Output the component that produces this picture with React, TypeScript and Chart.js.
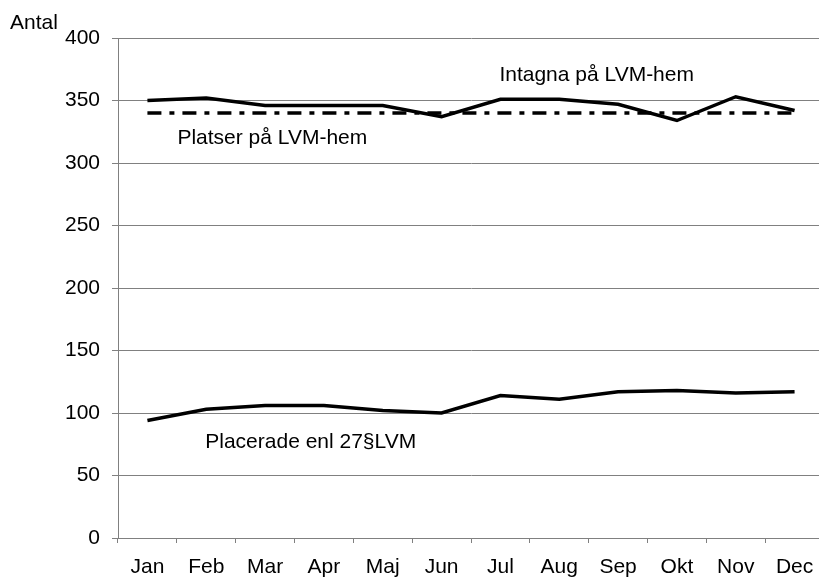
import React, { useEffect, useRef } from "react";
import { Chart, registerables } from "chart.js";

Chart.register(...registerables);

const months = ["Jan", "Feb", "Mar", "Apr", "Maj", "Jun", "Jul", "Aug", "Sep", "Okt", "Nov", "Dec"];
const intagna = [350, 352, 346, 346, 346, 337, 351, 351, 347, 334, 353, 342];
const platser = [340, 340, 340, 340, 340, 340, 340, 340, 340, 340, 340, 340];
const placerade = [94, 103, 106, 106, 102, 100, 114, 111, 117, 118, 116, 117];
const yTicks = [0, 50, 100, 150, 200, 250, 300, 350, 400];

const FONT = "'Liberation Sans', Arial, sans-serif";
const FS = 21;

const labelsPlugin = {
  id: "labelsPlugin",
  afterDraw(chart: any) {
    const ctx = chart.ctx;
    const x = chart.scales.x;
    const y = chart.scales.y;
    ctx.save();
    ctx.fillStyle = "#000";
    ctx.font = `${FS}px ${FONT}`;
    ctx.textBaseline = "middle";
    ctx.textAlign = "left";
    ctx.fillText("Intagna på LVM-hem", x.getPixelForValue(6) - 1, y.getPixelForValue(370));
    ctx.fillText("Platser på LVM-hem", x.getPixelForValue(0) + 30, y.getPixelForValue(320));
    ctx.fillText("Placerade enl 27§LVM", x.getPixelForValue(1) - 1, y.getPixelForValue(77));
    ctx.fillText("Antal", 10, 23);
    ctx.restore();
  },
};

export default function App() {
  const ref = useRef<HTMLCanvasElement>(null);
  useEffect(() => {
    document.body.style.margin = "0";
    const chart = new Chart(ref.current!, {
      type: "line",
      data: {
        labels: months,
        datasets: [
          { label: "Intagna", data: intagna, borderColor: "#000", borderWidth: 3.5, pointRadius: 0, tension: 0 },
          { label: "Platser", data: platser, borderColor: "#000", borderWidth: 3.5, borderDash: [14, 8, 5, 8], pointRadius: 0, tension: 0 },
          { label: "Placerade", data: placerade, borderColor: "#000", borderWidth: 3.5, pointRadius: 0, tension: 0 },
        ],
      },
      options: {
        responsive: false,
        animation: false,
        layout: { padding: { top: 38, right: 6, left: 0, bottom: 0 } },
        plugins: { legend: { display: false }, tooltip: { enabled: false } },
        scales: {
          y: {
            min: 0,
            max: 400,
            afterBuildTicks: (s: any) => { s.ticks = yTicks.map((v) => ({ value: v })); },
            afterFit: (s: any) => { s.width = 118; },
            ticks: { color: "#000", font: { family: FONT, size: FS }, padding: 12 },
            grid: { color: "#808080", lineWidth: 1, tickLength: 6 },
            border: { color: "#808080", width: 1 },
          },
          x: {
            offset: true,
            afterFit: (s: any) => { s.height = 43; },
            ticks: { color: "#000", font: { family: FONT, size: FS }, padding: 12, maxRotation: 0, autoSkip: false },
            grid: { offset: true, drawOnChartArea: false, drawTicks: true, tickLength: 5, color: "#808080" },
            border: { color: "#808080", width: 1 },
          },
        },
      },
      plugins: [labelsPlugin],
    });
    return () => chart.destroy();
  }, []);
  return (
    <div style={{ width: 819, height: 581, overflow: "hidden", background: "#fff" }}>
      <canvas ref={ref} width={830} height={581} />
    </div>
  );
}
